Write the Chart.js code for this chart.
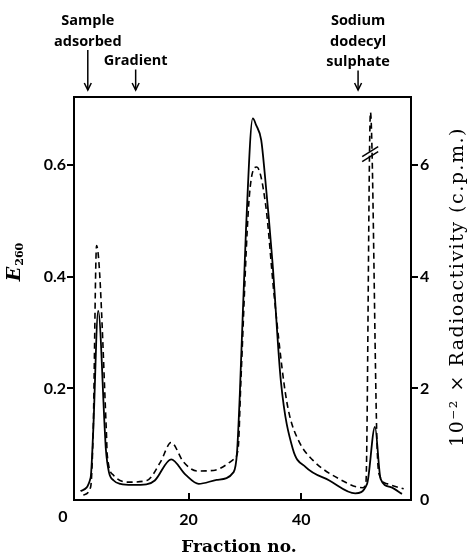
<!DOCTYPE html>
<html><head><meta charset="utf-8">
<script src="https://cdn.jsdelivr.net/npm/chart.js@4/dist/chart.umd.min.js"></script>
<style>html,body{margin:0;padding:0;background:#fff}</style>
</head><body>
<canvas id="c" width="467" height="556"></canvas>
<script>
// Solid line: E260
const fractionE = [0.8, 2.6, 3.06, 3.95, 5.13, 5.3, 5.85, 6.7, 7.9, 10.0, 12.5, 14.0, 16.9, 19.5, 21.8, 25.0, 28.0, 28.6, 29.1, 30.2, 31.4, 32.0, 32.9, 33.5, 34.9, 36.4, 38.5, 40.8, 45.0, 49.6, 51.7, 53.1, 54.1, 55.9, 57.9];
const e260 = [0.016, 0.04, 0.123, 0.339, 0.123, 0.092, 0.05, 0.035, 0.029, 0.027, 0.028, 0.035, 0.073, 0.045, 0.029, 0.036, 0.05, 0.085, 0.19, 0.486, 0.684, 0.672, 0.645, 0.588, 0.426, 0.212, 0.092, 0.059, 0.035, 0.012, 0.029, 0.131, 0.038, 0.023, 0.011];
// Dashed line: 10^-2 x radioactivity (c.p.m.)
const fractionR = [1.3, 2.6, 3.06, 3.66, 5.4, 5.55, 6.7, 9.1, 12.6, 15.0, 16.9, 19.1, 21.5, 24.4, 28.0, 28.8, 29.3, 30.8, 32.1, 33.7, 35.2, 37.0, 37.9, 39.6, 42.0, 46.7, 50.9, 51.5, 52.3, 53.5, 54.0, 55.3, 58.2];
const radioactivity = [0.09, 0.23, 1.25, 4.56, 1.23, 0.81, 0.44, 0.32, 0.35, 0.68, 1.03, 0.68, 0.52, 0.53, 0.73, 0.92, 2.16, 5.46, 5.97, 5.28, 3.66, 2.05, 1.53, 1.05, 0.72, 0.38, 0.22, 0.32, 6.95, 0.9, 0.42, 0.29, 0.2];
// Ticks
const xTicks = [0, 20, 40];
const leftTicks = [0.2, 0.4, 0.6];
const rightTicks = [0, 2, 4, 6];
// Event annotations
const eventLabels = [["Sample", "adsorbed"], ["Gradient"], ["Sodium", "dodecyl", "sulphate"]];
const eventFractions = [2.1, 10.6, 50.1];
const breakMark = [52.25, 6.2];
const xRange = [-0.35, 59.5];
const eRange = [0, 0.7225];
const rRange = [0, 7.225];

const tickFont = {family: 'Lato', weight: 'bold', size: 16};

const overlay = {
  id: 'overlay',
  afterDraw(chart) {
    const ctx = chart.ctx, a = chart.chartArea;
    const xs = chart.scales.x, yr = chart.scales.yR;
    ctx.save();
    ctx.strokeStyle = '#000'; ctx.fillStyle = '#000';
    // frame
    ctx.lineWidth = 2;
    ctx.strokeRect(a.left, a.top, a.right - a.left, a.bottom - a.top);
    // inward x ticks
    xTicks.filter(v => v > 0).forEach(v => {
      const px = Math.round(xs.getPixelForValue(v));
      ctx.beginPath(); ctx.moveTo(px, a.bottom); ctx.lineTo(px, a.bottom - 7); ctx.stroke();
    });
    // "0" x label (set left of axis corner)
    ctx.font = 'bold 16px Lato';
    ctx.textAlign = 'center'; ctx.textBaseline = 'middle';
    ctx.fillText(String(xTicks[0]), xs.getPixelForValue(xTicks[0]) - 13, a.bottom + 17);
    // event labels and arrows
    ctx.lineWidth = 1.5;
    ctx.font = 'bold 14.5px "Open Sans"';
    eventLabels.forEach((lines, i) => {
      const px = xs.getPixelForValue(eventFractions[i]);
      const base0 = lines.length === 1 ? 65 : 25;
      ctx.textBaseline = 'alphabetic';
      lines.forEach((t, j) => ctx.fillText(t, px, base0 + 20.5 * j));
      const yStart = base0 + 20.5 * (lines.length - 1) + 4.5, y1 = a.top - 7;
      ctx.beginPath(); ctx.moveTo(px, yStart); ctx.lineTo(px, y1); ctx.stroke();
      ctx.beginPath(); ctx.moveTo(px - 3.5, y1 - 7); ctx.lineTo(px, y1); ctx.lineTo(px + 3.5, y1 - 7); ctx.stroke();
    });
    // break marks on SDS peak
    const bx = xs.getPixelForValue(breakMark[0]), by = yr.getPixelForValue(breakMark[1]);
    ctx.lineWidth = 1.5;
    [-2.5, 2.5].forEach(d => {
      ctx.beginPath(); ctx.moveTo(bx - 8, by + 5 + d); ctx.lineTo(bx + 8, by - 5 + d); ctx.stroke();
    });
    // left axis title E260
    ctx.save();
    ctx.translate(20, 262); ctx.rotate(-Math.PI / 2);
    ctx.textAlign = 'left'; ctx.textBaseline = 'alphabetic';
    ctx.font = 'italic bold 19px "DejaVu Serif"';
    const wE = ctx.measureText('E').width;
    ctx.font = 'bold 11px "DejaVu Serif"';
    const wS = ctx.measureText('260').width;
    const x0 = -(wE + wS + 1) / 2;
    ctx.font = 'italic bold 19px "DejaVu Serif"';
    ctx.fillText('E', x0, 0);
    ctx.font = 'bold 11px "DejaVu Serif"';
    ctx.fillText('260', x0 + wE + 1, 3);
    ctx.restore();
    // right axis title
    ctx.save();
    ctx.translate(463, 287); ctx.rotate(-Math.PI / 2);
    ctx.textAlign = 'center'; ctx.textBaseline = 'alphabetic';
    ctx.font = '19px "DejaVu Serif"';
    try { ctx.letterSpacing = '1.5px'; } catch (e) {}
    ctx.fillText('10\u207B\u00B2 \u00D7 Radioactivity (c.p.m.)', 0, 0);
    try { ctx.letterSpacing = '0px'; } catch (e) {}
    ctx.restore();
    // x axis title
    ctx.textAlign = 'center'; ctx.textBaseline = 'alphabetic';
    ctx.font = 'bold 17px "DejaVu Serif"';
    ctx.fillText('Fraction no.', 239, 552);
    ctx.restore();
  }
};

new Chart(document.getElementById('c'), {
  type: 'line',
  data: {
    datasets: [
      {
        data: fractionE.map((f, i) => ({x: f, y: e260[i]})),
        yAxisID: 'y', borderColor: '#000', borderWidth: 1.8,
        pointRadius: 0, fill: false, cubicInterpolationMode: 'monotone'
      },
      {
        data: fractionR.map((f, i) => ({x: f, y: radioactivity[i]})),
        yAxisID: 'yR', borderColor: '#000', borderWidth: 1.6, borderDash: [6, 4],
        pointRadius: 0, fill: false, cubicInterpolationMode: 'monotone'
      }
    ]
  },
  options: {
    responsive: false, animation: false, devicePixelRatio: 1,
    layout: {padding: {top: 97}},
    plugins: {legend: {display: false}, tooltip: {enabled: false}},
    scales: {
      x: {
        type: 'linear', min: xRange[0], max: xRange[1],
        afterBuildTicks: s => { s.ticks = xTicks.filter(v => v > 0).map(v => ({value: v})); },
        afterFit: s => { s.height = 56; },
        grid: {display: false, drawTicks: false},
        border: {display: false},
        ticks: {font: tickFont, color: '#000', padding: 10, maxRotation: 0, autoSkip: false}
      },
      y: {
        position: 'left', min: eRange[0], max: eRange[1],
        afterBuildTicks: s => { s.ticks = leftTicks.map(v => ({value: v})); },
        afterFit: s => { s.width = 74; },
        grid: {drawOnChartArea: false, tickLength: 7, color: '#000', lineWidth: 2},
        border: {display: false},
        ticks: {font: tickFont, color: '#000', padding: 1, callback: v => v.toFixed(1)}
      },
      yR: {
        position: 'right', min: rRange[0], max: rRange[1],
        afterBuildTicks: s => { s.ticks = rightTicks.map(v => ({value: v})); },
        afterFit: s => { s.width = 56; },
        grid: {drawOnChartArea: false, tickLength: 7, lineWidth: 2,
               color: c => (c.tick && c.tick.value === 0) ? 'rgba(0,0,0,0)' : '#000'},
        border: {display: false},
        ticks: {font: tickFont, color: '#000', padding: 2}
      }
    }
  },
  plugins: [overlay]
});
</script>
</body></html>
